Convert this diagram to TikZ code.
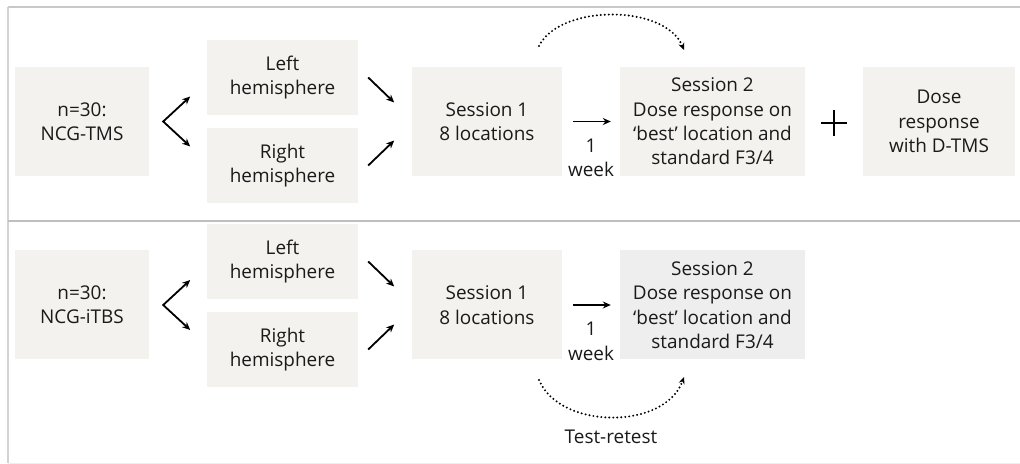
\documentclass[tikz,border=0pt]{standalone}
\usepackage{fontspec}
\setmainfont{Open Sans}
\usepackage{tikz}
\usetikzlibrary{arrows.meta, calc}

\definecolor{boxfill}{HTML}{F4F2EE}
\definecolor{boxgrey}{HTML}{EEEEEE}
\definecolor{framegrey}{HTML}{C8C8C8}
\definecolor{inkgrey}{HTML}{1A1A1A}

\begin{document}
\begin{tikzpicture}[x=1bp, y=1bp,
    every node/.append style={inner sep=0pt, text=inkgrey, align=center,
        font=\fontsize{19}{24.5}\selectfont},
    box/.style={fill=boxfill, minimum width=#1},
    tall/.style={minimum height=109bp},
    short/.style={minimum height=75bp},
    flow/.style={-{Stealth[length=8bp, width=7bp]}, line width=1.8bp, black},
    fork/.style={{Stealth[length=8bp, width=7bp]}-{Stealth[length=8bp, width=7bp]},
        line width=1.8bp, black},
    loop/.style={-{Stealth[length=7bp, width=6bp]}, line width=2.2bp, black,
        line cap=round, dash pattern=on 0bp off 4bp}]
        \useasboundingbox (0,0) rectangle (1020,-464);
        % frame
        \draw [framegrey, line width=2bp] (8,-7) -- (1020,-7);
        \draw [framegrey!80, line width=2bp] (8,-7) -- (8,-463);
        \draw [framegrey!95!black, line width=2.5bp] (8,-221) -- (1020,-221);
        \draw [boxgrey, line width=1bp] (8,-463) -- (1020,-463);
        % upper row: NCG-TMS
        \node [box=134bp, tall] (tmsn) at (82,-121.5) {n=30:\\NCG-TMS};
        \node [box=151bp, short] (tmsleft) at (282.5,-77.5) {Left\\hemisphere};
        \node [box=151bp, short] (tmsright) at (282.5,-165.5) {Right\\hemisphere};
        \node [box=150bp, tall] (tmsone) at (487,-121.5) {Session 1\\8 locations};
        \node [box=185bp, tall] (tmstwo) at (712.5,-121.5) {Session 2\\Dose response on\\‘best’ location and\\standard F3/4};
        \node [box=152bp, tall] (tmsdose) at (939,-121.5) {Dose\\response\\with D-TMS};
        \coordinate (tmsfork) at ($(tmsn.east)+(14,0)$);
        \draw [fork] ($(tmsfork)+(27,25)$) -- (tmsfork) -- ($(tmsfork)+(27,-25)$);
        \draw [flow] ($(tmsleft.east)+(10,0)$) -- ++(26,-25);
        \draw [flow] ($(tmsright.east)+(10,0)$) -- ++(26,25);
        \draw [flow, shorten <=11bp, shorten >=9bp] (tmsone) -- (tmstwo);
        \node (tmsweek) at (591,-158) {1\\week};
        \coordinate (tmsplus) at (834,-123);
        \draw [black, line width=1.6bp] ($(tmsplus)+(-13,0)$) -- ($(tmsplus)+(13,0)$);
        \draw [black, line width=1.6bp] ($(tmsplus)+(0,-13)$) -- ($(tmsplus)+(0,13)$);
        \coordinate (tmsfrom) at (539,-46);
        \coordinate (tmsto) at (684,-50);
        \draw [loop] (tmsfrom) .. controls (560,-4) and (665,-4) .. (tmsto);
        % lower row: NCG-iTBS
        \node [box=134bp, tall] (tbsn) at (82,-305) {n=30:\\NCG-iTBS};
        \node [box=151bp, short] (tbsleft) at (282.5,-261.5) {Left\\hemisphere};
        \node [box=151bp, short] (tbsright) at (282.5,-349.5) {Right\\hemisphere};
        \node [box=150bp, tall] (tbsone) at (487,-305) {Session 1\\8 locations};
        \node [box=185bp, tall, fill=boxgrey] (tbstwo) at (712.5,-305) {Session 2\\Dose response on\\‘best’ location and\\standard F3/4};
        \coordinate (tbsfork) at ($(tbsn.east)+(14,0)$);
        \draw [fork] ($(tbsfork)+(27,25)$) -- (tbsfork) -- ($(tbsfork)+(27,-25)$);
        \draw [flow] ($(tbsleft.east)+(10,0)$) -- ++(26,-25);
        \draw [flow] ($(tbsright.east)+(10,0)$) -- ++(26,25);
        \draw [flow, shorten <=11bp, shorten >=9bp] (tbsone) -- (tbstwo);
        \node (tbsweek) at (591,-341.5) {1\\week};
        \coordinate (tbsfrom) at (539,-380);
        \coordinate (tbsto) at (684,-377);
        \draw [loop] (tbsfrom) .. controls (560,-430) and (665,-430) .. (tbsto);
        \node (retest) at (611,-437) {Test-retest};
\end{tikzpicture}
\end{document}
